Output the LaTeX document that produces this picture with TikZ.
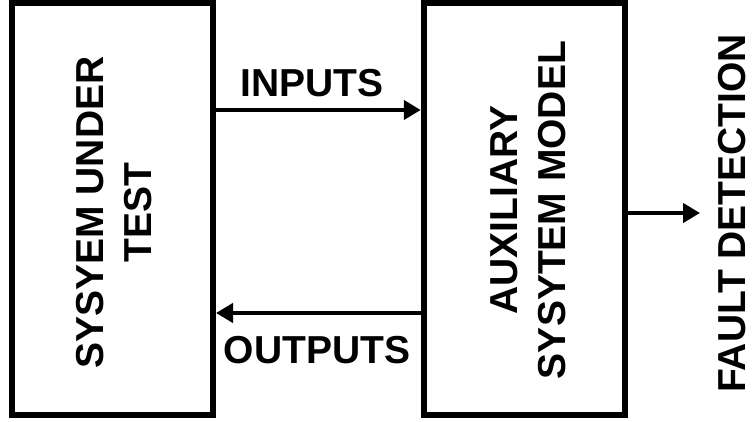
\documentclass[tikz,border=0pt]{standalone}
\usepackage{fontspec}
\setmainfont{Liberation Sans}
\usepackage{tikz}
\usetikzlibrary{
    arrows.meta,
    positioning,
    calc
}

\begin{document}
\begin{tikzpicture}[
    x=1pt, y=1pt,
    block/.style={rectangle, draw, line width=6pt, minimum width=201.5pt, minimum height=411.5pt, inner sep=0pt},
    txt/.style={font=\fontsize{39}{48}\selectfont\bfseries, inner sep=0pt},
    blocktxt/.style={txt, align=center, rotate=90},
    arrow/.style={-{Triangle[length=17pt, width=19pt]}, line width=4.5pt}
]
\useasboundingbox (0,0) rectangle (755,421);

% Blocks
\node[block] (sut) at (112.25, 211.75) {};
\node[block] (aux) at (524.5, 211.75) {};

% Block labels (rotated)
\node[blocktxt] (sutlbl) at (114, 208.5) {SYSYEM UNDER\\TEST};
\node[blocktxt] (auxlbl) at (528, 211) {AUXILIARY\\SYSYTEM MODEL};

% Signal arrows
\draw[arrow] ([yshift=99.25pt]sut.east) -- ([yshift=99.25pt]aux.west);
\draw[arrow] ([yshift=-103.75pt]aux.west) -- ([yshift=-103.75pt]sut.east);
\node[txt] (inputs) at (312, 338) {INPUTS};
\node[txt] (outputs) at (317, 70.5) {OUTPUTS};

% Fault detection output
\coordinate (fdtip) at (700, 208);
\draw[arrow] (aux.east |- fdtip) -- (fdtip);
\node[txt, rotate=90, anchor=west] (fault) at (732.5, 28) {FAULT DETECTION};

\end{tikzpicture}
\end{document}
